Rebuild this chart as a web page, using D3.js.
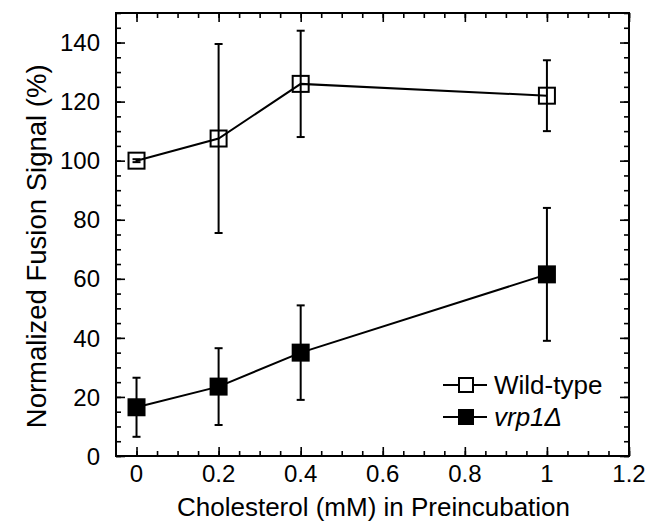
<!DOCTYPE html>
<html>
<head>
<meta charset="utf-8">
<script src="https://cdn.jsdelivr.net/npm/d3@7"></script>
<style>
  body { margin: 0; background: #fff; }
  text { font-family: "Liberation Sans", Arial, sans-serif; fill: #000; }
</style>
</head>
<body>
<svg id="chart" width="649" height="522"></svg>
<script>
var cholesterol = [0, 0.2, 0.4, 1];
var wildType = [100, 107.5, 126, 122];
var wildTypeErr = [0.5, 32, 18, 12];
var vrp1 = [16.5, 23.5, 35, 61.5];
var vrp1Err = [10, 13, 16, 22.5];
var xTicks = [0, 0.2, 0.4, 0.6, 0.8, 1, 1.2];
var yTicks = [0, 20, 40, 60, 80, 100, 120, 140];

var margin = {left: 116, top: 13, right: 20, bottom: 66},
    width = 649 - margin.left - margin.right,
    height = 522 - margin.top - margin.bottom;

var svg = d3.select("#chart");
var g = svg.append("g").attr("transform", "translate(" + margin.left + "," + margin.top + ")");

var x = d3.scaleLinear().domain([-0.05, 1.2]).range([0, width]);
var y = d3.scaleLinear().domain([0, 150]).range([height, 0]);

var xMinor = d3.range(0, 1.2001, 0.05),
    yMinor = d3.range(0, 150.001, 5);

function tickAxis(axis, scale, values, size) {
    return axis(scale).tickValues(values).tickSize(size).tickFormat("");
}

// inward ticks on all four sides, minor then major
[[xMinor, 5], [xTicks, 9]].forEach(function (t) {
    g.append("g").attr("transform", "translate(0," + height + ")")
        .call(tickAxis(d3.axisTop, x, t[0], t[1]));
    g.append("g").call(tickAxis(d3.axisBottom, x, t[0], t[1]));
});
[[yMinor, 5], [yTicks, 9]].forEach(function (t) {
    g.append("g").call(tickAxis(d3.axisRight, y, t[0], t[1]));
    g.append("g").attr("transform", "translate(" + width + ",0)")
        .call(tickAxis(d3.axisLeft, y, t[0], t[1]));
});
g.selectAll(".domain").remove();
g.selectAll(".tick line").attr("stroke", "#000").attr("stroke-width", 1.6);

g.append("rect")
    .attr("width", width).attr("height", height)
    .attr("fill", "none").attr("stroke", "#000").attr("stroke-width", 2);

// tick labels
g.selectAll(".xlab").data(xTicks).enter().append("text")
    .attr("x", function (d) { return x(d); })
    .attr("y", height + 26)
    .attr("text-anchor", "middle")
    .style("font-size", "24px")
    .text(function (d) { return d; });

g.selectAll(".ylab").data(yTicks).enter().append("text")
    .attr("x", -16)
    .attr("y", function (d) { return y(d); })
    .attr("dy", "0.36em")
    .attr("text-anchor", "end")
    .style("font-size", "24px")
    .text(function (d) { return d; });

// axis titles
svg.append("text")
    .attr("x", margin.left + width / 2 + 1)
    .attr("y", 516)
    .attr("text-anchor", "middle")
    .style("font-size", "26px")
    .text("Cholesterol (mM) in Preincubation");

svg.append("text")
    .attr("transform", "translate(46," + (margin.top + y(71)) + ") rotate(-90)")
    .attr("text-anchor", "middle")
    .style("font-size", "27.5px")
    .text("Normalized Fusion Signal (%)");

function drawSeries(vals, errs, filled) {
    var pts = cholesterol.map(function (c, i) { return {x: c, y: vals[i], e: errs[i]}; });
    var s = g.append("g");

    s.append("path").datum(pts)
        .attr("fill", "none").attr("stroke", "#000").attr("stroke-width", 2)
        .attr("d", d3.line().x(function (d) { return x(d.x); }).y(function (d) { return y(d.y); }));

    var eb = s.selectAll(".eb").data(pts).enter().append("g");
    eb.append("line")
        .attr("x1", function (d) { return x(d.x); }).attr("x2", function (d) { return x(d.x); })
        .attr("y1", function (d) { return y(d.y + d.e); }).attr("y2", function (d) { return y(d.y - d.e); })
        .attr("stroke", "#000").attr("stroke-width", 2);
    [1, -1].forEach(function (sgn) {
        eb.append("line")
            .attr("x1", function (d) { return x(d.x) - 4; }).attr("x2", function (d) { return x(d.x) + 4; })
            .attr("y1", function (d) { return y(d.y + sgn * d.e); }).attr("y2", function (d) { return y(d.y + sgn * d.e); })
            .attr("stroke", "#000").attr("stroke-width", 2);
    });

    s.selectAll(".pt").data(pts).enter().append("rect")
        .attr("x", function (d) { return x(d.x) - 8; })
        .attr("y", function (d) { return y(d.y) - 8; })
        .attr("width", 16).attr("height", 16)
        .attr("fill", filled ? "#000" : "none")
        .attr("stroke", "#000").attr("stroke-width", 2);
}

drawSeries(wildType, wildTypeErr, false);
drawSeries(vrp1, vrp1Err, true);

// legend
var legend = svg.append("g").attr("transform", "translate(443,385)");
[{name: "Wild-type", filled: false, italic: false}, {name: "vrp1\u0394", filled: true, italic: true}]
    .forEach(function (d, i) {
        var row = legend.append("g").attr("transform", "translate(0," + (i * 32) + ")");
        row.append("line").attr("x1", 0).attr("x2", 44).attr("y1", 0).attr("y2", 0)
            .attr("stroke", "#000").attr("stroke-width", 2);
        row.append("rect").attr("x", 16).attr("y", -7).attr("width", 14).attr("height", 14)
            .attr("fill", d.filled ? "#000" : "#fff").attr("stroke", "#000").attr("stroke-width", 2);
        row.append("text").attr("x", 51).attr("y", 0).attr("dy", "0.36em")
            .style("font-size", "26px")
            .style("font-style", d.italic ? "italic" : "normal")
            .text(d.name);
    });
</script>
</body>
</html>
